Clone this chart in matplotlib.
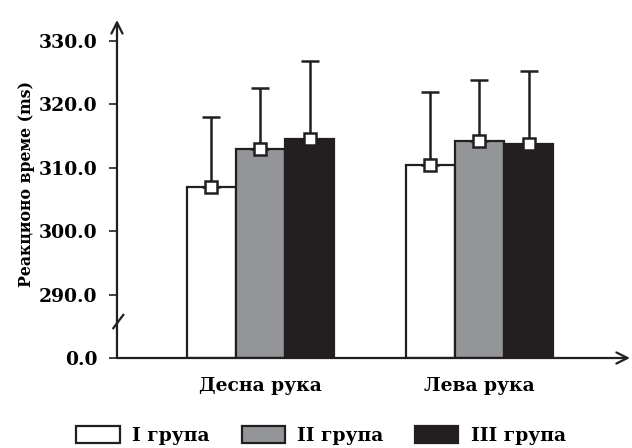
import numpy as np
import matplotlib
matplotlib.use("Agg")
import matplotlib.pyplot as plt
from matplotlib.patches import Patch

categories = ["Десна рука", "Лева рука"]
groups = ["I група", "II група", "III група"]
means = {
    "I група": [306.9, 310.5],
    "II група": [313.0, 314.2],
    "III група": [314.6, 313.8],
}
sd_up = {
    "I група": [11.1, 11.4],
    "II група": [9.5, 9.6],
    "III група": [12.3, 11.5],
}
yticks = [280, 290, 300, 310, 320, 330]
ytick_labels = ["0.0", "290.0", "300.0", "310.0", "320.0", "330.0"]
BASE = 280  # the broken axis: 0.0 is drawn at this level

dark = "#231f20"
colors = ["white", "#939598", dark]

plt.rcParams["font.family"] = ["DejaVu Serif"]
plt.rcParams["font.size"] = 13.5
plt.rcParams["font.weight"] = "bold"

fig = plt.figure(figsize=(6.32, 4.48), dpi=100)
ax = fig.add_axes([0.1851, 0.2009, 0.8117, 0.7545])

ind = np.arange(len(categories))
width = 0.224
for i, g in enumerate(groups):
    x = ind + (i - 1) * width
    vals = np.array(means[g])
    ax.bar(x, vals - BASE, width, bottom=BASE, color=colors[i],
           edgecolor=dark, linewidth=1.6, zorder=2)
    ax.errorbar(x, vals, yerr=[np.zeros(len(vals)), sd_up[g]], fmt="none",
                ecolor=dark, elinewidth=1.8, capsize=6.5, capthick=1.8, zorder=3)
    ax.plot(x, vals, "s", mfc="white", mec=dark, ms=9, mew=1.8, zorder=4)

ax.set_xlim(-0.655, 1.687)
ax.set_ylim(BASE, 333.3)
ax.set_yticks(yticks)
ax.set_yticklabels(ytick_labels)
ax.set_xticks(ind)
ax.set_xticklabels(categories)
ax.tick_params(axis="x", length=0, pad=14)
ax.tick_params(axis="y", length=6, width=1.2, color=dark, pad=8)

for s in ax.spines.values():
    s.set_visible(False)

# axis arrows
ax.annotate("", xy=(1.0, 0), xytext=(0, 0), xycoords="axes fraction",
            arrowprops=dict(arrowstyle="->", color=dark, lw=1.6,
                            mutation_scale=20, shrinkA=0, shrinkB=0))
ax.annotate("", xy=(0, 1.0), xytext=(0, 0), xycoords="axes fraction",
            arrowprops=dict(arrowstyle="->", color=dark, lw=1.6,
                            mutation_scale=20, shrinkA=0, shrinkB=0))

# break mark
tr = ax.get_yaxis_transform()
ax.plot([-0.0072, 0.0123], [284.7, 286.8], color=dark, lw=1.6,
        transform=tr, clip_on=False, zorder=5)

ax.set_ylabel("Реакционо време (ms)", fontsize=11.3, fontweight="bold")
ax.yaxis.set_label_coords(-0.16, 0.515)

handles = [Patch(facecolor=c, edgecolor=dark, linewidth=1.6) for c in colors]
fig.legend(handles, groups, loc="lower center", ncol=3, frameon=False,
           bbox_to_anchor=(0.508, -0.03), handlelength=2.3, handleheight=1.0,
           handletextpad=0.65, columnspacing=1.72)

fig.savefig("out.png", dpi=100)
